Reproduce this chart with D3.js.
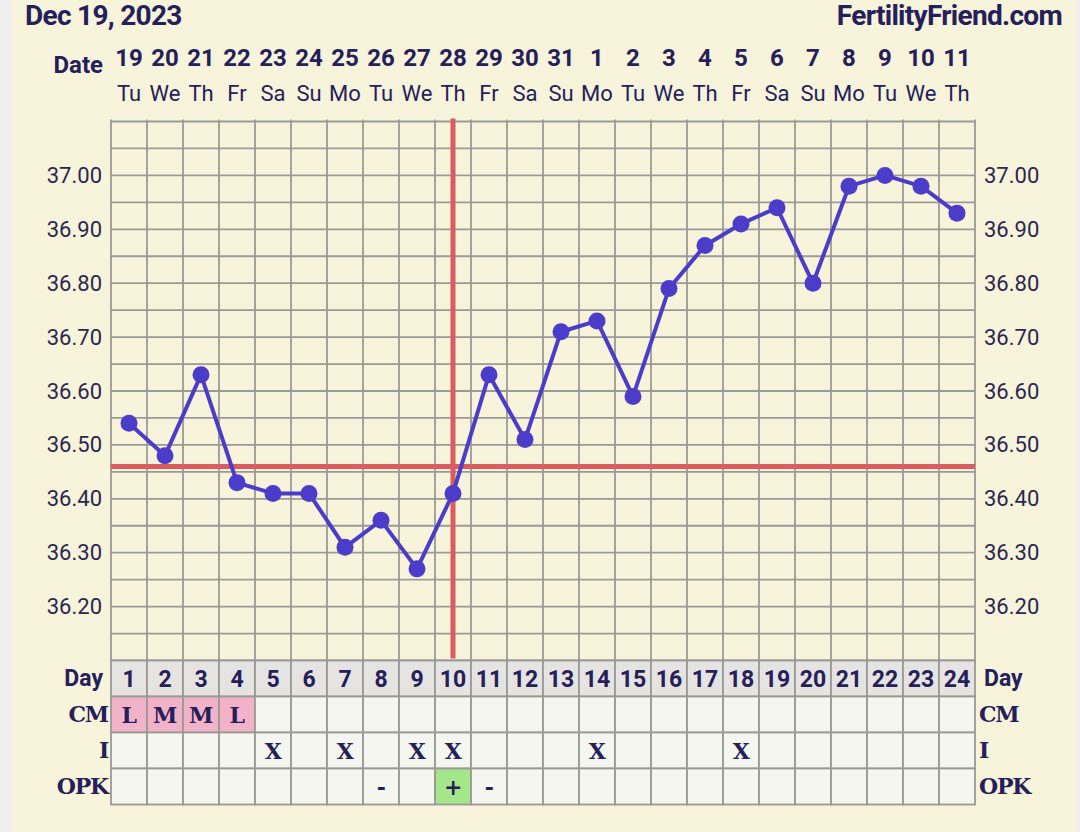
<!DOCTYPE html>
<html>
<head>
<meta charset="utf-8">
<script src="https://cdn.jsdelivr.net/npm/d3@7/dist/d3.min.js"></script>
<style>
  html, body { margin: 0; padding: 0; background: #efefef; }
  svg { display: block; }
</style>
</head>
<body>
<svg id="chart" width="1080" height="832"></svg>
<script>
// ---- data ----
const days = [1,2,3,4,5,6,7,8,9,10,11,12,13,14,15,16,17,18,19,20,21,22,23,24];
const dates = ["19","20","21","22","23","24","25","26","27","28","29","30","31","1","2","3","4","5","6","7","8","9","10","11"];
const weekdays = ["Tu","We","Th","Fr","Sa","Su","Mo","Tu","We","Th","Fr","Sa","Su","Mo","Tu","We","Th","Fr","Sa","Su","Mo","Tu","We","Th"];
const temps = [36.54,36.48,36.63,36.43,36.41,36.41,36.31,36.36,36.27,36.41,36.63,36.51,36.71,36.73,36.59,36.79,36.87,36.91,36.94,36.80,36.98,37.00,36.98,36.93];
const cmValues = ["L","M","M","L","","","","","","","","","","","","","","","","","","","",""];
const intercourse = ["","","","","X","","X","","X","X","","","","X","","","","X","","","","","",""];
const opk = ["","","","","","","","-","","+","-","","","","","","","","","","","","",""];
const yTicks = [36.20,36.30,36.40,36.50,36.60,36.70,36.80,36.90,37.00];
const gridTicks = [36.10,36.15,36.20,36.25,36.30,36.35,36.40,36.45,36.50,36.55,36.60,36.65,36.70,36.75,36.80,36.85,36.90,36.95,37.00,37.05,37.10];
const coverline = 36.46;
const ovulationDay = 10;
const titleLeft = "Dec 19, 2023";
const titleRight = "FertilityFriend.com";

// ---- layout ----
const navy = "#25205a";
const gridColor = "#9a9a96";
const svg = d3.select("#chart");

svg.append("rect").attr("x", 11).attr("y", 0).attr("width", 1065).attr("height", 832).attr("fill", "#f8f4dc");

const x = d3.scaleBand().domain(days).range([111, 975]).padding(0);
const bw = x.bandwidth();
const cx = d => x(d) + bw / 2;
const y = d3.scaleLinear().domain([36.10, 37.10]).range([660.5, 121.5]);

// titles
svg.append("text").attr("x", 25).attr("y", 25).text(titleLeft)
  .attr("font-family", "Roboto").attr("font-weight", 700).attr("font-size", 28)
  .attr("letter-spacing", -0.7).attr("fill", navy);
svg.append("text").attr("x", 1062).attr("y", 25).attr("text-anchor", "end").text(titleRight)
  .attr("font-family", "Roboto").attr("font-weight", 700).attr("font-size", 28)
  .attr("letter-spacing", -0.7).attr("fill", navy);

// header rows
svg.append("text").attr("x", 103).attr("y", 73).attr("text-anchor", "end").text("Date")
  .attr("font-family", "Roboto").attr("font-weight", 700).attr("font-size", 24).attr("fill", navy);
svg.append("g").selectAll("text").data(days).join("text")
  .attr("x", d => cx(d)).attr("y", 66).attr("text-anchor", "middle")
  .text((d, i) => dates[i])
  .attr("font-family", "Roboto").attr("font-weight", 700).attr("font-size", 24).attr("fill", navy);
svg.append("g").selectAll("text").data(days).join("text")
  .attr("x", d => cx(d)).attr("y", 101).attr("text-anchor", "middle")
  .text((d, i) => weekdays[i])
  .attr("font-family", "Roboto").attr("font-size", 22).attr("fill", navy);

// grid
const plotTop = y(37.10), plotBottom = y(36.10);
svg.append("g").selectAll("line").data(gridTicks).join("line")
  .attr("x1", 111).attr("x2", 975).attr("y1", d => y(d)).attr("y2", d => y(d))
  .attr("stroke", gridColor).attr("stroke-width", 1.8);
svg.append("g").selectAll("line").data(days.concat([25])).join("line")
  .attr("x1", d => d === 25 ? 975 : x(d)).attr("x2", d => d === 25 ? 975 : x(d))
  .attr("y1", plotTop - 2).attr("y2", plotBottom)
  .attr("stroke", gridColor).attr("stroke-width", 1.8);

// axes labels
const leftAxis = d3.axisLeft(y).tickValues(yTicks).tickFormat(d3.format(".2f")).tickSize(0).tickPadding(9);
const rightAxis = d3.axisRight(y).tickValues(yTicks).tickFormat(d3.format(".2f")).tickSize(0).tickPadding(9);
const gl = svg.append("g").attr("transform", "translate(111,0)").call(leftAxis);
const gr = svg.append("g").attr("transform", "translate(975,0)").call(rightAxis);
[gl, gr].forEach(g => {
  g.select(".domain").remove();
  g.selectAll("text").attr("font-family", "Roboto").attr("font-size", 22).attr("fill", "#2a2750");
});

// coverline + ovulation line
svg.append("line").attr("x1", 111).attr("x2", 975).attr("y1", y(coverline)).attr("y2", y(coverline))
  .attr("stroke", "#d95c5e").attr("stroke-width", 5);
svg.append("line").attr("x1", cx(ovulationDay)).attr("x2", cx(ovulationDay))
  .attr("y1", plotTop - 3).attr("y2", plotBottom - 2)
  .attr("stroke", "#d95c5e").attr("stroke-width", 5);

// temperature line
const line = d3.line().x((d, i) => cx(days[i])).y(d => y(d));
svg.append("path").datum(temps).attr("d", line)
  .attr("fill", "none").attr("stroke", "#4b3cc9").attr("stroke-width", 4).attr("stroke-linejoin", "round");
svg.append("g").selectAll("circle").data(temps).join("circle")
  .attr("cx", (d, i) => cx(days[i])).attr("cy", d => y(d)).attr("r", 8.5).attr("fill", "#4b3cc9");

// table
const rowH = 36;
const tableTop = plotBottom;
const rows = [
  { label: "Day", vals: days.map(String), sans: true },
  { label: "CM", vals: cmValues },
  { label: "I", vals: intercourse },
  { label: "OPK", vals: opk }
];
const tg = svg.append("g");
rows.forEach((row, r) => {
  const top = tableTop + r * rowH;
  tg.append("g").selectAll("rect").data(days).join("rect")
    .attr("x", d => x(d)).attr("y", top).attr("width", bw).attr("height", rowH)
    .attr("fill", (d, i) => {
      if (r === 0) return "#e5e4e2";
      if (r === 1 && row.vals[i]) return "#f2b3c8";
      if (r === 3 && row.vals[i] === "+") return "#a6e68b";
      return "#f6f6f0";
    })
    .attr("stroke", gridColor).attr("stroke-width", 1.8);
  tg.append("g").selectAll("text").data(days).join("text")
    .attr("x", d => cx(d)).attr("y", top + rowH / 2 + 8).attr("text-anchor", "middle")
    .text((d, i) => row.vals[i])
    .attr("font-family", row.sans ? "Roboto" : "DejaVu Serif")
    .attr("font-weight", 700).attr("font-size", row.sans ? 23 : 22)
    .attr("letter-spacing", row.sans ? 0 : -0.5).attr("fill", navy);
  const lblFont = row.sans ? "Roboto" : "DejaVu Serif";
  const lblSize = row.sans ? 23 : 22;
  tg.append("text").attr("x", row.sans ? 103 : 108).attr("y", top + rowH / 2 + 7).attr("text-anchor", "end")
    .text(row.label).attr("font-family", lblFont).attr("font-weight", 700).attr("font-size", lblSize)
    .attr("letter-spacing", row.sans ? 0 : -1.2).attr("fill", navy);
  tg.append("text").attr("x", row.sans ? 984 : 979).attr("y", top + rowH / 2 + 7).attr("text-anchor", "start")
    .text(row.label).attr("font-family", lblFont).attr("font-weight", 700).attr("font-size", lblSize)
    .attr("letter-spacing", row.sans ? 0 : -1.2).attr("fill", navy);
});
</script>
</body>
</html>
